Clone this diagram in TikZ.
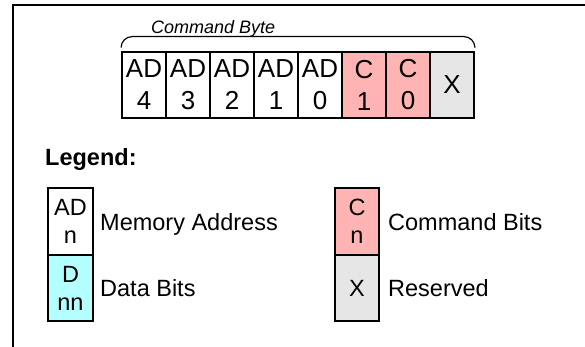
\documentclass[tikz,border=0pt]{standalone}
\usepackage{fontspec}
\setmainfont{Liberation Sans}
\definecolor{cmdred}{RGB}{255,179,179}
\definecolor{resgray}{RGB}{230,230,230}
\definecolor{datacyan}{RGB}{179,255,255}
\tikzset{
  bitcell/.style={draw=black, line width=1.8pt, minimum width=44pt, minimum height=66pt,
    inner sep=0pt, align=center, font=\fontsize{26}{32}\selectfont},
  legcell/.style={draw=black, line width=1.8pt, minimum width=45pt, minimum height=66.5pt,
    inner sep=0pt, align=center, font=\fontsize{23.5}{28}\selectfont},
  legtext/.style={anchor=base west, inner sep=0pt, font=\fontsize{23.5}{28}\selectfont},
  frameline/.style={line width=1.8pt},
  bracestyle/.style={line width=1.2pt, rounded corners=11pt}
}
\begin{document}
\begin{tikzpicture}[x=1pt, y=-1pt]
\useasboundingbox (0,0) rectangle (585,347);
% frame
\coordinate (fbl) at (12.7,347);
\coordinate (ftl) at (12.7,5);
\coordinate (ftr) at (585,5);
\draw[frameline] (fbl) -- (ftl) -- (ftr);
% command byte cells
\node[bitcell] (c1) at (144,85) {AD\\4};
\node[bitcell] (c2) at (188,85) {AD\\3};
\node[bitcell] (c3) at (232,85) {AD\\2};
\node[bitcell] (c4) at (276,85) {AD\\1};
\node[bitcell] (c5) at (320,85) {AD\\0};
\node[bitcell, fill=cmdred] (c6) at (364,85) {C\\1};
\node[bitcell, fill=cmdred] (c7) at (408,85) {C\\0};
\node[bitcell, fill=resgray] (c8) at (452,85) {X};
% brace over the byte
\draw[bracestyle] ([yshift=4pt]c1.north west) |- ([yshift=14.5pt]c4.north) -| ([yshift=4pt]c8.north east);
\node[anchor=base west, inner sep=0pt, font=\fontsize{18}{22}\selectfont\itshape] (cb) at (151,34) {Command Byte};
% legend
\node[anchor=base west, inner sep=0pt, font=\fontsize{23.5}{28}\selectfont\bfseries] (leg) at (45,166) {Legend:};
\node[legcell] (la) at (70.5,221.5) {AD\\n};
\node[legcell, fill=datacyan] (ld) at (70.5,288) {D\\nn};
\node[legcell, minimum width=44pt, fill=cmdred] (lc) at (357,221.5) {C\\n};
\node[legcell, minimum width=44pt, fill=resgray] (lx) at (357,288) {X};
\node[legtext] (ta) at (100,230) {Memory Address};
\node[legtext] (td) at (100,296.4) {Data Bits};
\node[legtext] (tc) at (388,230) {Command Bits};
\node[legtext] (tx) at (388,296.4) {Reserved};
\end{tikzpicture}
\end{document}
